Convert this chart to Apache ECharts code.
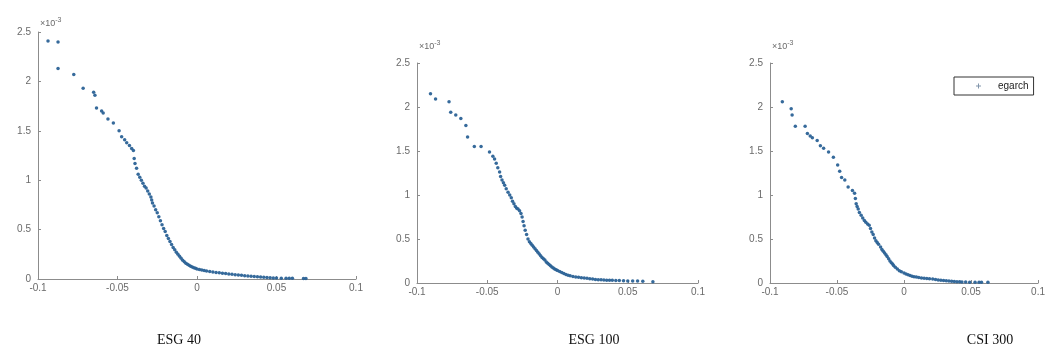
<!DOCTYPE html>
<html>
<head>
<meta charset="utf-8">
<title>EGARCH news impact</title>
<script src="https://cdn.jsdelivr.net/npm/echarts@6/dist/echarts.min.js"></script>
<style>
  html, body { margin: 0; padding: 0; background: #fff; }
  #chart { width: 1048px; height: 355px; }
</style>
</head>
<body>
<div id="chart"></div>
<script>
// Conditional variance against shock, y values in units of 1e-3
const esg40Points = [
  [-0.0937,2.41],[-0.0874,2.40],[-0.0874,2.13],[-0.0775,2.07],[-0.0716,1.93],[-0.0650,1.89],
  [-0.0642,1.86],[-0.0632,1.73],[-0.0600,1.70],[-0.0590,1.68],[-0.0560,1.62],[-0.0526,1.58],
  [-0.0490,1.50],[-0.0474,1.44],[-0.0455,1.41],[-0.0442,1.38],[-0.0425,1.35],[-0.0411,1.32],
  [-0.0400,1.30],[-0.0395,1.22],[-0.0390,1.17],[-0.0380,1.12],
  [-0.0370,1.06],[-0.0360,1.03],[-0.0350,1.00],[-0.0340,0.97],[-0.0330,0.94],[-0.0320,0.92],
  [-0.0310,0.89],[-0.0300,0.86],[-0.0290,0.83],[-0.0285,0.80],[-0.0280,0.77],[-0.0270,0.74],
  [-0.0260,0.70],[-0.0250,0.67],[-0.0240,0.63],[-0.0230,0.59],[-0.0220,0.55],[-0.0210,0.51],
  [-0.0200,0.48],[-0.0190,0.44],[-0.0180,0.41],[-0.0170,0.38],[-0.0160,0.35],[-0.0150,0.32],
  [-0.0140,0.295],[-0.0130,0.27],[-0.0120,0.25],[-0.0110,0.23],[-0.0100,0.21],[-0.0090,0.19],
  [-0.0080,0.175],[-0.0070,0.16],[-0.0060,0.15],[-0.0050,0.14],[-0.0040,0.13],[-0.0030,0.122],
  [-0.0020,0.115],[-0.0010,0.108],[0.0000,0.102],[0.0015,0.095],[0.0030,0.090],[0.0045,0.085],
  [0.0060,0.080],[0.0080,0.076],[0.0100,0.072],[0.0120,0.067],[0.0140,0.063],[0.0160,0.059],
  [0.0180,0.055],[0.0200,0.051],[0.0220,0.047],[0.0240,0.044],[0.0260,0.040],[0.0280,0.037],
  [0.0300,0.034],[0.0320,0.031],[0.0340,0.028],[0.0360,0.025],[0.0380,0.022],[0.0400,0.019],
  [0.0420,0.017],[0.0440,0.015],[0.0460,0.013],[0.0480,0.011],
  [0.0500,0.010],[0.0530,0.008],[0.0560,0.008],[0.0580,0.007],[0.0600,0.007],[0.0670,0.006],[0.0685,0.006]
];

const esg100Points = [
  [-0.0904,2.15],[-0.0868,2.09],[-0.0772,2.06],[-0.0760,1.94],[-0.0724,1.91],[-0.0688,1.87],
  [-0.0652,1.79],[-0.0640,1.66],[-0.0592,1.55],[-0.0544,1.55],[-0.0484,1.49],[-0.0460,1.44],
  [-0.0448,1.41],[-0.0436,1.36],[-0.0425,1.31],
  [-0.0412,1.26],[-0.0405,1.21],[-0.0395,1.17],[-0.0385,1.14],[-0.0376,1.11],[-0.0365,1.07],
  [-0.0352,1.03],[-0.0340,1.00],[-0.0329,0.97],[-0.0320,0.93],[-0.0310,0.90],[-0.0300,0.87],
  [-0.0290,0.85],[-0.0281,0.84],[-0.0270,0.82],[-0.0260,0.79],[-0.0252,0.75],[-0.0245,0.70],
  [-0.0238,0.65],[-0.0230,0.60],[-0.0220,0.55],[-0.0210,0.50],[-0.0200,0.47],[-0.0190,0.45],
  [-0.0180,0.43],[-0.0170,0.41],[-0.0160,0.39],[-0.0150,0.37],[-0.0140,0.35],[-0.0130,0.33],
  [-0.0120,0.31],[-0.0110,0.29],[-0.0100,0.275],[-0.0090,0.26],[-0.0080,0.24],[-0.0070,0.225],
  [-0.0060,0.21],[-0.0050,0.195],[-0.0040,0.182],[-0.0030,0.17],[-0.0020,0.16],[-0.0010,0.15],
  [0.0000,0.143],[0.0015,0.13],[0.0030,0.118],[0.0045,0.107],[0.0060,0.097],[0.0075,0.089],
  [0.0090,0.082],[0.0110,0.075],[0.0130,0.069],[0.0150,0.065],[0.0170,0.061],[0.0190,0.057],
  [0.0210,0.053],[0.0230,0.049],[0.0250,0.045],[0.0270,0.041],[0.0290,0.038],[0.0310,0.036],
  [0.0330,0.034],[0.0350,0.032],[0.0370,0.031],[0.0390,0.030],
  [0.0415,0.029],[0.0440,0.027],[0.0470,0.026],[0.0500,0.024],[0.0535,0.023],[0.0570,0.022],
  [0.0607,0.020],[0.0679,0.015]
];

const csi300Points = [
  [-0.0908,2.06],[-0.0842,1.98],[-0.0835,1.91],[-0.0811,1.78],[-0.0738,1.78],[-0.0721,1.70],
  [-0.0700,1.67],[-0.0684,1.65],[-0.0648,1.62],[-0.0624,1.56],[-0.0600,1.53],[-0.0563,1.49],
  [-0.0527,1.43],[-0.0495,1.34],[-0.0480,1.27],[-0.0466,1.20],[-0.0442,1.17],[-0.0417,1.09],
  [-0.0385,1.05],
  [-0.0369,1.02],[-0.0363,0.96],[-0.0357,0.90],[-0.0350,0.87],[-0.0342,0.84],[-0.0333,0.80],
  [-0.0320,0.77],[-0.0308,0.74],[-0.0296,0.71],[-0.0285,0.69],[-0.0272,0.67],[-0.0260,0.655],
  [-0.0250,0.62],[-0.0240,0.58],[-0.0230,0.55],[-0.0220,0.51],[-0.0210,0.48],[-0.0200,0.46],
  [-0.0190,0.44],[-0.0175,0.41],[-0.0165,0.38],[-0.0155,0.36],[-0.0145,0.34],[-0.0135,0.32],
  [-0.0126,0.30],[-0.0115,0.275],[-0.0105,0.25],[-0.0095,0.23],[-0.0085,0.215],[-0.0078,0.20],
  [-0.0065,0.18],[-0.0050,0.16],[-0.0035,0.14],[-0.0020,0.127],[0.0000,0.114],[0.0015,0.103],
  [0.0030,0.093],[0.0045,0.085],[0.0060,0.078],[0.0075,0.072],[0.0092,0.068],[0.0110,0.062],
  [0.0130,0.057],[0.0150,0.053],[0.0170,0.050],[0.0190,0.047],[0.0214,0.045],[0.0235,0.040],
  [0.0255,0.035],[0.0275,0.031],[0.0295,0.028],[0.0315,0.025],[0.0335,0.023],[0.0355,0.020],
  [0.0375,0.017],[0.0395,0.015],[0.0415,0.013],
  [0.0432,0.011],[0.0460,0.010],[0.0490,0.009],[0.0530,0.008],[0.0560,0.008],[0.0578,0.008],[0.0626,0.008]
];

const panelNames = ['ESG 40', 'ESG 100', 'CSI 300'];
const seriesName = 'egarch';
const xTickValues = [-0.1, -0.05, 0, 0.05, 0.1];
const xTickLabels = ['-0.1', '-0.05', '0', '0.05', '0.1'];
const yTickValues = [0, 0.5, 1, 1.5, 2, 2.5];
const yTickLabels = ['0', '0.5', '1', '1.5', '2', '2.5'];

const chart = echarts.init(document.getElementById('chart'), null, { renderer: 'canvas' });

const AXIS_COLOR = '#8c8c8c';
const LABEL_COLOR = '#6a6a6a';
const MARK_COLOR = '#2b6296';

function tickLabel(values, labels) {
  return function (v) {
    for (let i = 0; i < values.length; i++) {
      if (Math.abs(values[i] - v) < 1e-9) return labels[i];
    }
    return '';
  };
}

const grids = [
  { left: 38, top: 32, width: 318, height: 247 },
  { left: 417, top: 63, width: 281, height: 220 },
  { left: 770, top: 63, width: 275, height: 220 }
];

const xAxes = grids.map((g, i) => ({
  gridIndex: i, type: 'value', min: -0.1, max: 0.1, interval: 0.05,
  axisLine: { onZero: false, lineStyle: { color: AXIS_COLOR, width: 1 } },
  axisTick: { inside: true, length: 3, lineStyle: { color: AXIS_COLOR } },
  splitLine: { show: false },
  axisLabel: {
    color: LABEL_COLOR, fontSize: 10, fontFamily: 'Liberation Sans, Arial, sans-serif',
    margin: 4, showMaxLabel: true, showMinLabel: true,
    formatter: tickLabel(xTickValues, xTickLabels)
  }
}));

const yAxes = grids.map((g, i) => ({
  gridIndex: i, type: 'value', min: 0, max: 2.5, interval: 0.5,
  axisLine: { show: true, onZero: false, lineStyle: { color: AXIS_COLOR, width: 1 } },
  axisTick: { show: true, inside: true, length: 3, lineStyle: { color: AXIS_COLOR } },
  splitLine: { show: false },
  axisLabel: {
    color: LABEL_COLOR, fontSize: 10, fontFamily: 'Liberation Sans, Arial, sans-serif',
    margin: 7, formatter: tickLabel(yTickValues, yTickLabels)
  }
}));

const datasets = [esg40Points, esg100Points, csi300Points];
const series = datasets.map((d, i) => ({
  name: seriesName, type: 'scatter', xAxisIndex: i, yAxisIndex: i,
  data: d, symbol: 'circle', symbolSize: 3.5,
  itemStyle: { color: MARK_COLOR, opacity: 0.95 },
  silent: true, animation: false
}));

// exponent marker above each y axis
const exponentPos = [[40, 17], [419, 40], [772, 40]];
const exponentTexts = exponentPos.map(p => ({
  type: 'text', left: p[0], top: p[1],
  style: {
    text: '{b|×10}{s|-3}',
    rich: {
      b: { fontSize: 9, fill: LABEL_COLOR, fontFamily: 'Liberation Sans, Arial, sans-serif', verticalAlign: 'bottom' },
      s: { fontSize: 7, fill: LABEL_COLOR, fontFamily: 'Liberation Sans, Arial, sans-serif', verticalAlign: 'top', padding: [0, 0, 4, 0] }
    }
  }
}));

const captionX = [179, 594, 990];
const captions = captionX.map((x, i) => ({
  type: 'text', x: x, y: 340,
  style: {
    text: panelNames[i], fill: '#111', fontSize: 14,
    fontFamily: 'Liberation Serif, Times New Roman, serif',
    align: 'center', verticalAlign: 'middle'
  }
}));

chart.setOption({
  animation: false,
  grid: grids,
  xAxis: xAxes,
  yAxis: yAxes,
  series: series,
  legend: {
    data: [{ name: seriesName, icon: 'path://M2,0 L3,0 L3,2 L5,2 L5,3 L3,3 L3,5 L2,5 L2,3 L0,3 L0,2 L2,2 Z' }],
    left: 954, top: 77,
    orient: 'vertical',
    itemWidth: 5, itemHeight: 5,
    padding: [4, 5, 4, 22],
    borderColor: '#333', borderWidth: 1, borderRadius: 0,
    backgroundColor: '#fff',
    selectedMode: false,
    itemStyle: { color: '#7a8fa6' },
    textStyle: { fontSize: 10, color: '#222', fontFamily: 'Liberation Sans, Arial, sans-serif', padding: [0, 0, 0, 12] }
  },
  graphic: exponentTexts.concat(captions)
});
</script>
</body>
</html>
